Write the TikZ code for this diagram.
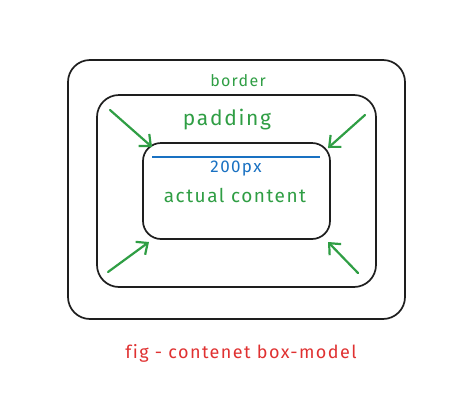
\documentclass[tikz,border=0pt]{standalone}
\usepackage{fontspec}
\setmainfont{Fira Sans}
\newfontfamily\hand[LetterSpace=8,Ligatures=NoCommon]{Fira Sans}
\usetikzlibrary{arrows.meta}
\definecolor{inkblack}{HTML}{1E1E1E}
\definecolor{inkgreen}{HTML}{2F9E44}
\definecolor{inkblue}{HTML}{1971C2}
\definecolor{inkred}{HTML}{E03131}
\tikzset{
  boxline/.style={draw=inkblack, line width=1.7pt, rounded corners=#1},
  pointer/.style={draw=inkgreen, line width=2.2pt, line cap=round,
    -{Straight Barb[length=9pt,width=16pt,line width=2.2pt]}},
  greenlabel/.style={text=inkgreen, inner sep=0pt},
}
\begin{document}
\begin{tikzpicture}[x=1pt,y=-1pt]
  \useasboundingbox[fill=white] (0,0) rectangle (456,413);
  % border, padding and content boxes
  \draw[boxline=22pt] (68,60) rectangle (405,319);
  \draw[boxline=22pt] (97,95) rectangle (376,287);
  \draw[boxline=18pt] (143,143) rectangle (330,239);
  % width marker of the content box
  \coordinate (wl) at (152,157);
  \coordinate (wr) at (320,157);
  \draw[inkblue, line width=2.6pt] (wl) -- (wr);
  % labels
  \node[greenlabel, font=\hand\fontsize{16}{19}\selectfont] (border) at (238,81) {border};
  \node[greenlabel, font=\hand\fontsize{21}{25}\selectfont] (padding) at (227,120) {padding};
  \node[text=inkblue, inner sep=0pt, font=\hand\fontsize{17}{20}\selectfont] (width) at (236,169) {200px};
  \node[greenlabel, font=\hand\fontsize{19}{22}\selectfont] (content) at (235,195) {actual content};
  \node[text=inkred, inner sep=0pt, font=\hand\fontsize{18}{21}\selectfont] (caption) at (241,353) {fig - contenet box-model};
  % arrows pointing inward to the content box
  \coordinate (tlA) at (110,110); \coordinate (tlB) at (152,147);
  \coordinate (trA) at (365,115); \coordinate (trB) at (328,148);
  \coordinate (blA) at (108,272); \coordinate (blB) at (149,242);
  \coordinate (brA) at (358,273); \coordinate (brB) at (328,242);
  \draw[pointer] (tlA) -- (tlB);
  \draw[pointer] (trA) -- (trB);
  \draw[pointer] (blA) -- (blB);
  \draw[pointer] (brA) -- (brB);
\end{tikzpicture}
\end{document}
